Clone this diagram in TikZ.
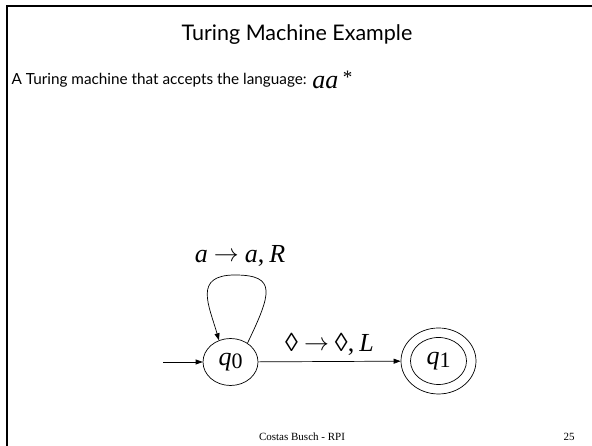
\documentclass[tikz,border=0pt]{standalone}
\usepackage{fontspec}
\setmainfont{Lato}
\newfontfamily\tmserif{Liberation Serif}
\usetikzlibrary{arrows.meta,positioning,shapes.geometric}
\newcommand{\tmto}{\hspace{6pt}\raisebox{1pt}{\fontsize{28}{28}\selectfont$\rightarrow$}\hspace{6pt}}

\begin{document}
\begin{tikzpicture}[x=1pt,y=1pt,>={Triangle[length=7pt,width=5pt]}]
  \useasboundingbox (0,0) rectangle (592,446);
  \draw[line width=2.5pt] (592,440) -- (7,440) -- (7,0);
  \node at (297,411) {\fontsize{21.5}{25}\selectfont Turing Machine Example};
  \node[right] (lang) at (8,366) {\fontsize{15.3}{18}\selectfont A Turing machine that accepts the language:};
  \node[right,inner sep=2pt] at (lang.east) {\tmserif\fontsize{26}{30}\selectfont\itshape aa\,\upshape\raisebox{5pt}{\fontsize{19}{22}\selectfont *}};
  \node[ellipse,draw,line width=0.7pt,minimum width=55pt,minimum height=47pt,inner sep=0pt] (q0) at (230.5,84)
    {\tmserif\fontsize{26}{28}\selectfont\itshape q\upshape\raisebox{-3pt}{\fontsize{22}{24}\selectfont 0}};
  \node[ellipse,draw,line width=0.7pt,minimum width=75pt,minimum height=66pt,inner sep=0pt] (q1) at (438.5,85)
    {\tmserif\fontsize{26}{28}\selectfont\itshape q\upshape\raisebox{-3pt}{\fontsize{22}{24}\selectfont 1}};
  \draw[line width=0.7pt] (q1.center) ellipse (28pt and 23.5pt);
  \coordinate (start) at (163,84);
  \draw[->,line width=0.7pt] (start) -- (q0);
  \draw[->,line width=0.7pt] (q0) -- (q1) node[midway,above=2pt] {\tmserif\fontsize{26}{28}\selectfont ◊\tmto◊,\hspace{5pt}\itshape L};
  \draw[->,line width=0.7pt] (q0.48) .. controls +(24,50) and +(42,0) .. (235,171) .. controls +(-42,0) and +(-10,35) .. (q0.118);
  \node at (240,190) {\tmserif\fontsize{26}{28}\selectfont\itshape a\upshape\tmto\itshape a\upshape,\hspace{5pt}\itshape R};
  \node at (302,9) {\tmserif\fontsize{11}{13}\selectfont Costas Busch - RPI};
  \node at (569,9) {\tmserif\fontsize{11}{13}\selectfont 25};
\end{tikzpicture}
\end{document}
